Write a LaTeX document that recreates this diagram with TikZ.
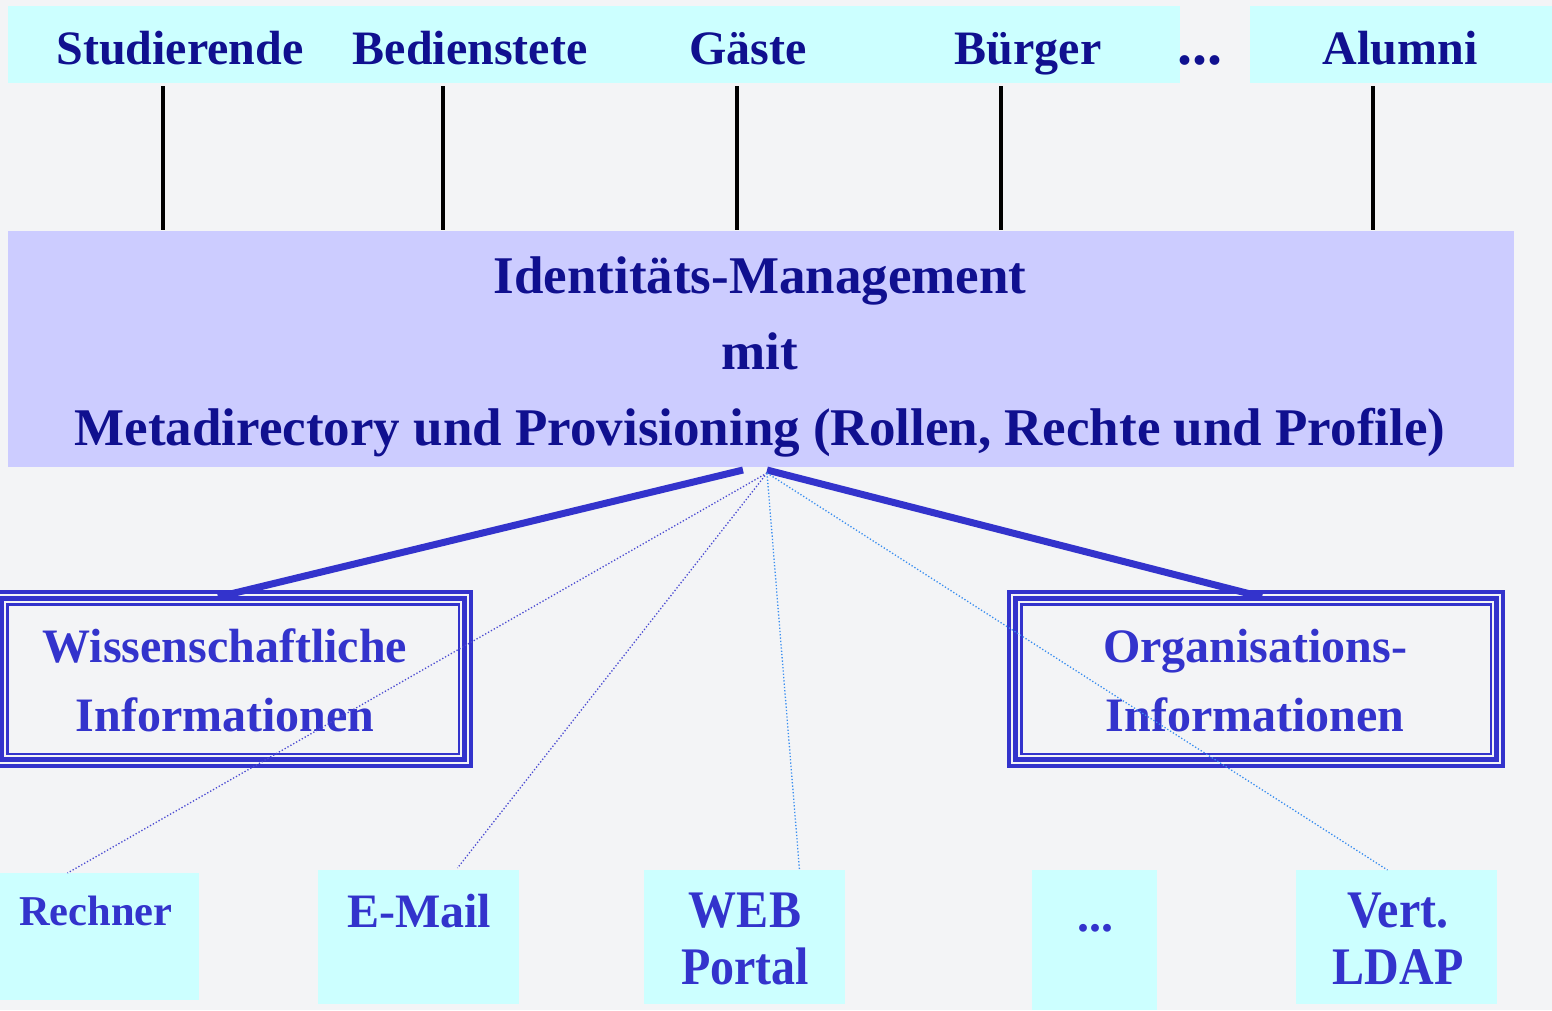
\documentclass[tikz,border=0pt]{standalone}
\usepackage{fontspec}
\setmainfont{Liberation Serif}
\usetikzlibrary{calc}
\definecolor{bg}{HTML}{F3F4F6}
\definecolor{cyanfill}{HTML}{CCFFFF}
\definecolor{lav}{HTML}{CCCCFF}
\definecolor{navy}{HTML}{10108F}
\definecolor{blu}{HTML}{3333CC}
\definecolor{dotA}{HTML}{4B4BD2}
\definecolor{dotB}{HTML}{3A8EF0}
\begin{document}
\begin{tikzpicture}[x=1pt,y=-1pt,
  every node/.style={inner sep=0pt,outer sep=0pt,font=\bfseries\fontsize{48}{52}\selectfont},
  cyanbox/.style={fill=cyanfill,anchor=north west},
  toplabel/.style={text=navy,anchor=base},
  midlabel/.style={text=navy,anchor=base,font=\bfseries\fontsize{53}{57}\selectfont},
  botlabel/.style={text=blu,anchor=base},
  vline/.style={line width=4pt,black},
  thick conn/.style={line width=7pt,blu},
  dotconnA/.style={dotted,line width=1.3pt,dotA},
  dotconnB/.style={dotted,line width=1.3pt,dotB},
  framebox/.style={minimum width=476pt,minimum height=174pt,anchor=north west}]
\fill[bg] (0,0) rectangle (1552,1010);
\useasboundingbox (0,0) rectangle (1552,1010);
% top band
\node[cyanbox,minimum width=1172pt,minimum height=77pt] (band) at (8,6) {};
\node[cyanbox,minimum width=302pt,minimum height=77pt] (alumbox) at (1250,6) {};
\node[toplabel] (stud) at (180,64) {Studierende};
\node[toplabel] (bed) at (470,64) {Bedienstete};
\node[toplabel] (gast) at (748,64) {Gäste};
\node[toplabel] (burg) at (1028,64) {Bürger};
\node[toplabel] (dots) at (1200,64) {\scalebox{1.25}{...}};
\node[toplabel] (alum) at (1400,64) {Alumni};
% main box
\node[fill=lav,anchor=north west,minimum width=1506pt,minimum height=236pt] (main) at (8,231) {};
\node[midlabel] (l1) at (760,293) {Identitäts-Management};
\node[midlabel] (l2) at (760,369) {mit};
\node[midlabel] (l3) at (760,445) {Metadirectory und Provisioning (Rollen, Rechte und Profile)};
% vertical lines
\foreach \xx in {163,443,737,1001,1373}{
  \draw[vline] (\xx,86) -- (\xx,230);
}
% framed boxes
\node[framebox] (wiss) at (-5,592) {};
\node[framebox,minimum width=494pt] (org) at (1009,592) {};
\foreach \b in {wiss,org}{
  \draw[blu,line width=3.3pt] (\b.north west) rectangle (\b.south east);
  \draw[blu,line width=4.7pt] ([shift={(6.7,6.7)}]\b.north west) rectangle ([shift={(-6.7,-6.7)}]\b.south east);
  \draw[blu,line width=2.4pt] ([shift={(12.3,12.3)}]\b.north west) rectangle ([shift={(-12.3,-12.3)}]\b.south east);
}
\node[botlabel] (w1) at (225,662) {Wissenschaftliche};
\node[botlabel] (w2) at (225,731) {Informationen};
\node[botlabel] (o1) at (1255,662) {Organisations-};
\node[botlabel] (o2) at (1255,731) {Informationen};
% bottom boxes
\node[cyanbox,minimum width=199pt,minimum height=127pt] (rech) at (0,873) {};
\node[cyanbox,minimum width=201pt,minimum height=134pt] (mail) at (318,870) {};
\node[cyanbox,minimum width=201pt,minimum height=134pt] (web) at (644,870) {};
\node[cyanbox,minimum width=125pt,minimum height=140pt] (more) at (1032,870) {};
\node[cyanbox,minimum width=201pt,minimum height=134pt] (ldap) at (1296,870) {};
\node[botlabel,font=\bfseries\fontsize{42.5}{46}\selectfont] (rt) at (96,925) {Rechner};
\node[botlabel] (mt) at (419,927) {E-Mail};
\node[botlabel] (wt1) at (745,927) {\scalebox{1}[1.1]{WEB}};
\node[botlabel] (wt2) at (745,984) {\scalebox{1}[1.1]{Portal}};
\node[botlabel] (dt) at (1095,931) {...};
\node[botlabel] (lt1) at (1398,927) {\scalebox{1}[1.1]{Vert.}};
\node[botlabel] (lt2) at (1398,984) {\scalebox{1}[1.1]{LDAP}};
% connectors
\coordinate (hubL) at (743,470);
\coordinate (hubR) at (767,470);
\coordinate (hub) at (767,473);
\draw[thick conn] (hubL) -- ([xshift=-15pt,yshift=-5pt]wiss.north);
\draw[thick conn] (hubR) -- ([xshift=6pt,yshift=-5pt]org.north);
\draw[dotconnA] (hub) -- ([xshift=-32pt]rech.north);
\draw[dotconnA] (hub) -- ([xshift=39pt,yshift=2pt]mail.north);
\draw[dotconnB] (hub) -- ([xshift=55pt]web.north);
\draw[dotconnB] (hub) -- ([xshift=-9pt]ldap.north);
\end{tikzpicture}
\end{document}
